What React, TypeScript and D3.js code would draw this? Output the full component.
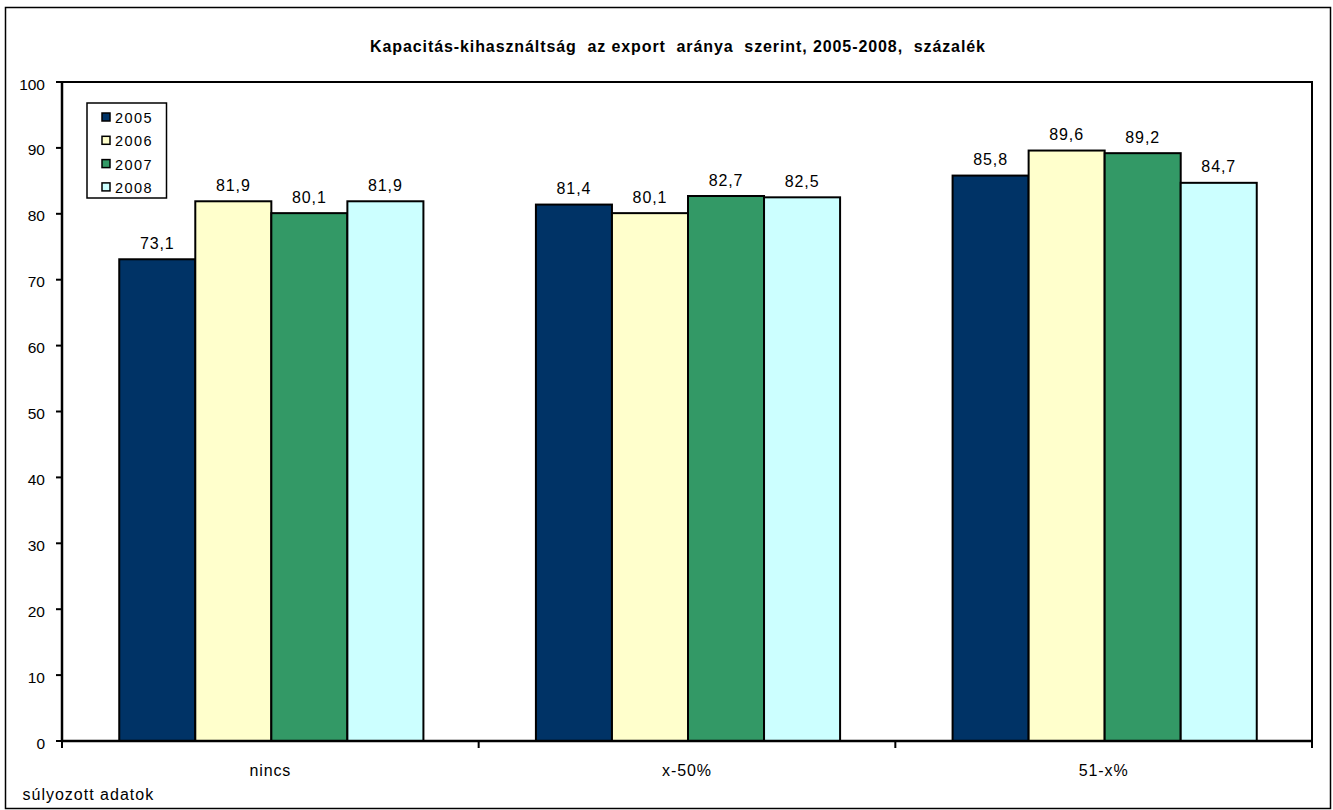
import React from "react";
import * as d3 from "d3";

const categories = ["nincs", "x-50%", "51-x%"];
const seriesNames = ["2005", "2006", "2007", "2008"];
const v2005 = [73.1, 81.4, 85.8];
const v2006 = [81.9, 80.1, 89.6];
const v2007 = [80.1, 82.7, 89.2];
const v2008 = [81.9, 82.5, 84.7];
const seriesValues = [v2005, v2006, v2007, v2008];
const colors = ["#003366", "#FFFFCC", "#339966", "#CCFFFF"];
const yTicks = [0, 10, 20, 30, 40, 50, 60, 70, 80, 90, 100];

const W = 1333;
const H = 810;
const plotL = 62;
const plotR = 1312;
const plotT = 82;
const plotB = 741;
const font = "'Liberation Sans', Arial, sans-serif";
const fmt = (v: number) => v.toFixed(1).replace(".", ",");

export default function App() {
  const x = d3.scaleBand<string>().domain(categories).range([plotL, plotR]).paddingInner(0).paddingOuter(0);
  const y = d3.scaleLinear().domain([0, 100]).range([plotB, plotT]);
  const groupW = x.bandwidth() * 0.73;
  const x1 = d3.scaleBand<string>().domain(seriesNames).range([0, groupW]).padding(0);
  const catTicks = [plotL, ...categories.map((c) => (x(c) as number) + x.bandwidth())];

  return (
    <svg width={W} height={H} style={{ position: "absolute", left: 0, top: 0, background: "#fff" }}>
      <rect x={5.5} y={7.5} width={1325} height={801} fill="#fff" stroke="#000" strokeWidth={1.5} />
      <text
        x={370}
        y={52}
        fontFamily={font}
        fontSize={16}
        fontWeight="bold"
        textLength={615}
        lengthAdjust="spacing"
        style={{ whiteSpace: "pre" }}
      >
        {"Kapacitás-kihasználtság  az export  aránya  szerint, 2005-2008,  százalék"}
      </text>
      {/* plot area frame */}
      <rect x={plotL} y={plotT} width={plotR - plotL} height={plotB - plotT} fill="none" stroke="#000" strokeWidth={2} />
      {/* bars */}
      {categories.map((c, ci) => {
        const gx = (x(c) as number) + (x.bandwidth() - groupW) / 2 + 1;
        return seriesNames.map((s, si) => {
          const v = seriesValues[si][ci];
          const bx = gx + (x1(s) as number);
          return (
            <g key={c + s}>
              <rect x={bx} y={y(v)} width={x1.bandwidth()} height={plotB - y(v)} fill={colors[si]} stroke="#000" strokeWidth={2} />
              <text
                x={bx + x1.bandwidth() / 2}
                y={y(v) - 10.5}
                textAnchor="middle"
                fontFamily={font}
                fontSize={16}
                letterSpacing={0.9}
              >
                {fmt(v)}
              </text>
            </g>
          );
        });
      })}
      {/* axes */}
      <line x1={plotL} y1={plotT - 1} x2={plotL} y2={plotB + 1} stroke="#000" strokeWidth={2.5} />
      <line x1={plotL - 1} y1={plotB} x2={plotR + 1} y2={plotB} stroke="#000" strokeWidth={2.5} />
      {yTicks.map((t) => (
        <g key={t}>
          <line x1={plotL - 6} x2={plotL} y1={y(t)} y2={y(t)} stroke="#000" strokeWidth={2} />
          <text x={45} y={y(t) + 7.5} textAnchor="end" fontFamily={font} fontSize={15.5}>
            {t}
          </text>
        </g>
      ))}
      {catTicks.map((tx, i) => (
        <line key={i} x1={tx} x2={tx} y1={plotB} y2={plotB + 7} stroke="#000" strokeWidth={2} />
      ))}
      {categories.map((c) => (
        <text
          key={c}
          x={(x(c) as number) + x.bandwidth() / 2}
          y={776}
          textAnchor="middle"
          fontFamily={font}
          fontSize={16}
          letterSpacing={0.9}
        >
          {c}
        </text>
      ))}
      <text x={22.5} y={800} fontFamily={font} fontSize={16} letterSpacing={1}>
        súlyozott adatok
      </text>
      {/* legend */}
      <rect x={87} y={103} width={79.5} height={95} fill="#fff" stroke="#000" strokeWidth={1.5} />
      {seriesNames.map((s, i) => (
        <g key={s} transform={`translate(0, ${117 + i * 23.3})`}>
          <rect x={102} y={-4} width={8} height={8} fill={colors[i]} stroke="#000" strokeWidth={1.5} />
          <text x={115} y={6} fontFamily={font} fontSize={14.5} letterSpacing={1.4}>
            {s}
          </text>
        </g>
      ))}
    </svg>
  );
}
